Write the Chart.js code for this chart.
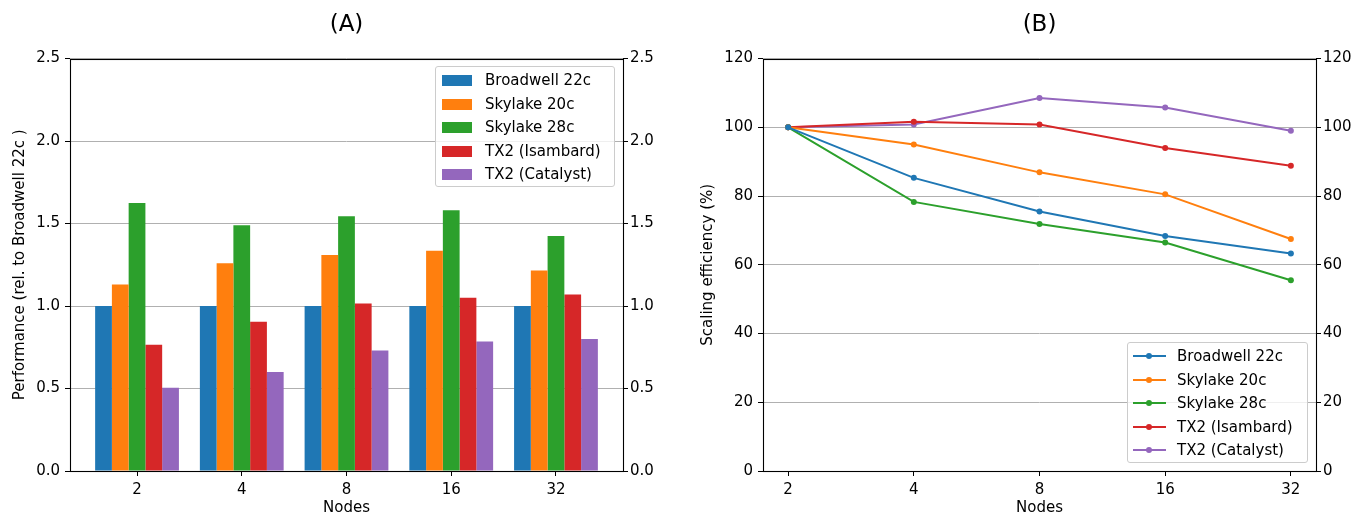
<!DOCTYPE html>
<html>
<head>
<meta charset="utf-8">
<script src="https://cdn.jsdelivr.net/npm/chart.js@4/dist/chart.umd.min.js"></script>
<style>
  html, body { margin: 0; padding: 0; background: #fff; }
  body { width: 1353px; height: 517px; position: relative; overflow: hidden; font-family: "DejaVu Sans", sans-serif; }
  .wrap { position: absolute; top: 0; height: 517px; }
  .legend { position: absolute; background: rgba(255,255,255,0.8); border: 1px solid #cccccc; border-radius: 3px; box-sizing: border-box; font: 15px "DejaVu Sans", sans-serif; color: #000; }
  .row { position: absolute; left: 0; height: 20px; line-height: 20px; white-space: nowrap; }
  .sw { position: absolute; }
  .lbl { position: absolute; top: 0; }
</style>
</head>
<body>
<div class="wrap" style="left:0;width:690px;"><canvas id="cA" width="690" height="517"></canvas></div>
<div class="wrap" style="left:690px;width:663px;"><canvas id="cB" width="663" height="517"></canvas></div>
<div id="legA" class="legend" style="left:435px;top:66px;width:180px;height:121px;"></div>
<div id="legB" class="legend" style="left:1127px;top:342px;width:181px;height:121px;"></div>
<script>
// ---- data ----
const nodeLabels = ['2', '4', '8', '16', '32'];
const seriesNames = ['Broadwell 22c', 'Skylake 20c', 'Skylake 28c', 'TX2 (Isambard)', 'TX2 (Catalyst)'];
const seriesColors = ['#1f77b4', '#ff7f0e', '#2ca02c', '#d62728', '#9467bd'];

// (A) performance relative to Broadwell 22c
const broadwellPerf = [1.0, 1.0, 1.0, 1.0, 1.0];
const skylake20Perf = [1.13, 1.26, 1.31, 1.335, 1.215];
const skylake28Perf = [1.625, 1.49, 1.545, 1.58, 1.425];
const isambardPerf  = [0.765, 0.905, 1.015, 1.05, 1.07];
const catalystPerf  = [0.505, 0.60, 0.73, 0.785, 0.80];

// (B) scaling efficiency (%)
const broadwellEff = [100, 85.3, 75.5, 68.4, 63.3];
const skylake20Eff = [100, 95.0, 86.9, 80.5, 67.5];
const skylake28Eff = [100, 78.3, 71.9, 66.5, 55.5];
const isambardEff  = [100, 101.6, 100.8, 94.0, 88.8];
const catalystEff  = [100, 100.8, 108.5, 105.8, 99.0];

const perfTicks = [0.0, 0.5, 1.0, 1.5, 2.0, 2.5];
const effTicks = [0, 20, 40, 60, 80, 100, 120];

const perfSeries = [broadwellPerf, skylake20Perf, skylake28Perf, isambardPerf, catalystPerf];
const effSeries = [broadwellEff, skylake20Eff, skylake28Eff, isambardEff, catalystEff];

// ---- helpers ----
const FONT = '"DejaVu Sans", sans-serif';
Chart.defaults.font.family = FONT;
Chart.defaults.font.size = 15;
Chart.defaults.color = '#000';

const framePlugin = {
  id: 'frame',
  afterDraw(chart) {
    const a = chart.chartArea, ctx = chart.ctx;
    ctx.save();
    ctx.strokeStyle = '#000';
    ctx.lineWidth = 1.1;
    ctx.strokeRect(Math.round(a.left) + 0.5, Math.round(a.top) + 0.5, Math.round(a.right - a.left), Math.round(a.bottom - a.top));
    ctx.restore();
  }
};

function xScale(min, max) {
  return {
    type: 'linear', position: 'bottom', min: min, max: max, offset: false,
    afterBuildTicks: s => { s.ticks = nodeLabels.map((_, i) => ({ value: i })); },
    afterFit: s => { s.height = 46; },
    ticks: { callback: v => nodeLabels[v], padding: 5, autoSkip: false, maxRotation: 0, color: '#000', font: { size: 15 } },
    grid: { display: true, offset: false, drawOnChartArea: false, drawTicks: true, tickLength: 5, tickColor: '#000', tickWidth: 1 },
    border: { display: false },
    title: { display: true, text: 'Nodes', padding: { top: 0, bottom: 0 }, font: { size: 15 }, color: '#000' }
  };
}

function yScales(tickVals, fmt, leftW, rightW, titleText, titlePad) {
  const base = (pos, pad) => ({
    type: 'linear', position: pos, min: tickVals[0], max: tickVals[tickVals.length - 1],
    afterBuildTicks: s => { s.ticks = tickVals.map(v => ({ value: v })); },
    ticks: { callback: fmt, padding: pad, color: '#000', font: { size: 15 } },
    border: { display: false }
  });
  const y = base('left', 5);
  y.afterFit = s => { s.width = leftW; };
  y.grid = { display: true, drawOnChartArea: true, color: '#b0b0b0', lineWidth: 1, drawTicks: true, tickLength: 5, tickColor: '#000', tickWidth: 1 };
  y.title = { display: true, text: titleText, padding: { top: titlePad, bottom: 0 }, font: { size: 15 }, color: '#000' };
  const y2 = base('right', 2);
  y2.afterFit = s => { s.width = rightW; };
  y2.grid = { display: true, drawOnChartArea: false, drawTicks: true, tickLength: 5, tickColor: '#000', tickWidth: 1 };
  return { y: y, y2: y2 };
}

function titleOpts(text) {
  return { display: true, text: text, fullSize: false, color: '#000', font: { size: 23, weight: 'normal' }, padding: { top: 11, bottom: 20 } };
}

// ---- Chart A: bars ----
const barDatasets = seriesNames.map((name, k) => ({
  label: name,
  data: perfSeries[k].map((v, i) => ({ x: i, y: v })),
  backgroundColor: seriesColors[k],
  borderWidth: 0,
  categoryPercentage: 0.8,
  barPercentage: 1.0,
  yAxisID: 'y'
}));
const ysA = yScales(perfTicks, v => Number(v).toFixed(1), 70, 67, 'Performance (rel. to Broadwell 22c )', 11);
new Chart(document.getElementById('cA'), {
  type: 'bar',
  data: { datasets: barDatasets },
  options: {
    responsive: false, animation: false, devicePixelRatio: 1,
    layout: { padding: 0 },
    scales: { x: xScale(-0.64, 4.64), y: ysA.y, y2: ysA.y2 },
    plugins: { legend: { display: false }, tooltip: { enabled: false }, title: titleOpts('(A)') }
  },
  plugins: [framePlugin]
});

// ---- Chart B: lines ----
const lineDatasets = seriesNames.map((name, k) => ({
  label: name,
  data: effSeries[k].map((v, i) => ({ x: i, y: v })),
  borderColor: seriesColors[k],
  backgroundColor: seriesColors[k],
  borderWidth: 2,
  pointRadius: 3,
  pointBorderWidth: 0,
  pointStyle: 'circle',
  tension: 0,
  fill: false,
  yAxisID: 'y'
}));
const ysB = yScales(effTicks, v => String(v), 73, 37, 'Scaling efficiency (%)', 9);
new Chart(document.getElementById('cB'), {
  type: 'line',
  data: { datasets: lineDatasets },
  options: {
    responsive: false, animation: false, devicePixelRatio: 1,
    layout: { padding: 0 },
    scales: { x: xScale(-0.2, 4.2), y: ysB.y, y2: ysB.y2 },
    plugins: { legend: { display: false }, tooltip: { enabled: false }, title: titleOpts('(B)') }
  },
  plugins: [framePlugin]
});

// ---- legends (HTML, real text) ----
function buildLegend(el, kind) {
  seriesNames.forEach((name, k) => {
    const row = document.createElement('div');
    row.className = 'row';
    row.style.top = (3 + k * 23.5) + 'px';
    row.style.width = '100%';
    const sw = document.createElement('div');
    sw.className = 'sw';
    if (kind === 'bar') {
      sw.style.left = '6px'; sw.style.top = '5px'; sw.style.width = '30px'; sw.style.height = '11px';
      sw.style.background = seriesColors[k];
    } else {
      sw.style.left = '5px'; sw.style.top = '9px'; sw.style.width = '33px'; sw.style.height = '2px';
      sw.style.background = seriesColors[k];
      const dot = document.createElement('div');
      dot.style.cssText = 'position:absolute;left:13px;top:-2px;width:6px;height:6px;border-radius:50%;background:' + seriesColors[k];
      sw.appendChild(dot);
    }
    const lbl = document.createElement('div');
    lbl.className = 'lbl';
    lbl.style.left = '49px';
    lbl.textContent = name;
    row.appendChild(sw); row.appendChild(lbl);
    el.appendChild(row);
  });
}
buildLegend(document.getElementById('legA'), 'bar');
buildLegend(document.getElementById('legB'), 'line');
</script>
</body>
</html>
